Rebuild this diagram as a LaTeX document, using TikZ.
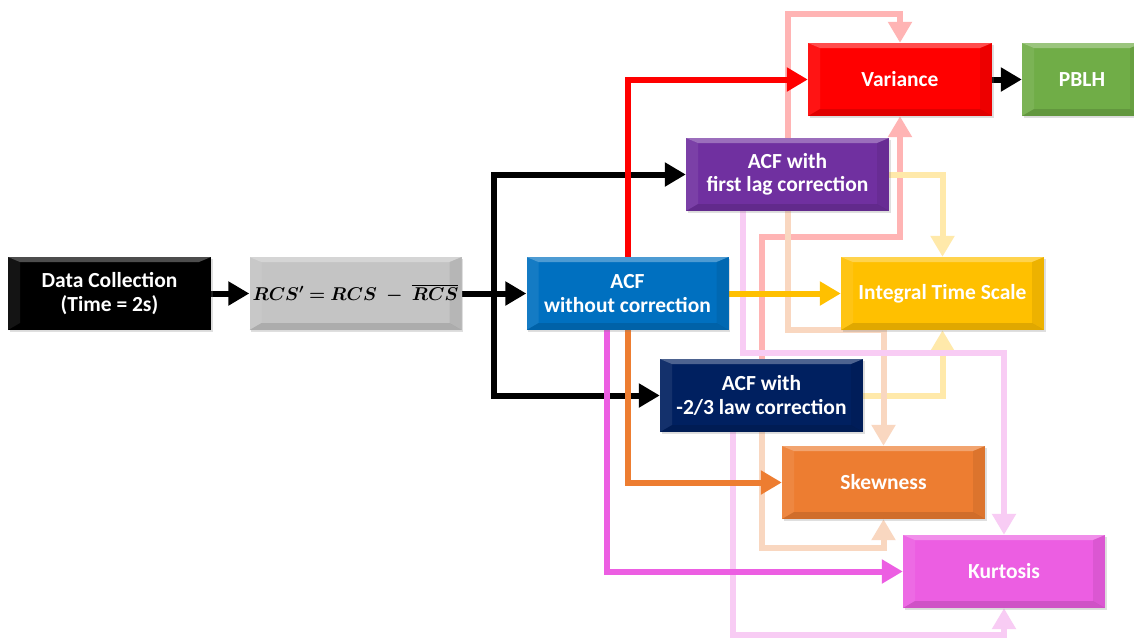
\documentclass[tikz,border=0pt]{standalone}
\usepackage{fix-cm}
\usepackage{amsmath}
\usepackage{bm}
\usepackage{fontspec}
\setmainfont{Carlito}
\usepackage{tikz}
\usetikzlibrary{arrows.meta,shadows}

\definecolor{rcsgray}{HTML}{C4C4C4}
\definecolor{acfblue}{HTML}{0070C0}
\definecolor{lagpurple}{HTML}{7030A0}
\definecolor{lawnavy}{HTML}{002060}
\definecolor{varred}{HTML}{FF0000}
\definecolor{pblhgreen}{HTML}{70AD47}
\definecolor{itsgold}{HTML}{FFC000}
\definecolor{skeworange}{HTML}{ED7D31}
\definecolor{kurtpink}{HTML}{EC5EE2}
\definecolor{palered}{HTML}{FFB4B4}
\definecolor{palegold}{HTML}{FFE9AA}
\definecolor{paleorange}{HTML}{F9D7C0}
\definecolor{palepink}{HTML}{F8CCF4}

\newcommand{\rcsformula}{$\bm{RCS^{\prime} = RCS} \;\bm{-}\; \bm{\overline{RCS}}$}

\pgfdeclarelayer{background}
\pgfsetlayers{background,main}

\tikzset{bevel/.style={path picture={
  \fill[white,opacity=.3] (path picture bounding box.north west) -- (path picture bounding box.north east)
    -- ([shift={(-12pt,-5pt)}]path picture bounding box.north east) -- ([shift={(12pt,-5pt)}]path picture bounding box.north west) -- cycle;
  \fill[white,opacity=.08] (path picture bounding box.north west) -- ([shift={(12pt,-5pt)}]path picture bounding box.north west)
    -- ([shift={(12pt,7pt)}]path picture bounding box.south west) -- (path picture bounding box.south west) -- cycle;
  \fill[black,opacity=.07] (path picture bounding box.north east) -- ([shift={(-12pt,-5pt)}]path picture bounding box.north east)
    -- ([shift={(-12pt,7pt)}]path picture bounding box.south east) -- (path picture bounding box.south east) -- cycle;
  \fill[black,opacity=.12] (path picture bounding box.south west) -- (path picture bounding box.south east)
    -- ([shift={(-12pt,7pt)}]path picture bounding box.south east) -- ([shift={(12pt,7pt)}]path picture bounding box.south west) -- cycle;
}}}

\tikzstyle{block} = [rectangle,
                     minimum width=203pt,
                     minimum height=73pt,
                     inner sep=0pt,
                     text centered,
                     text=white,
                     font=\fontsize{21.5}{23.5}\selectfont\bfseries,
                     bevel,
                     drop shadow={shadow xshift=1.5pt,shadow yshift=-2pt,opacity=.25},
                    ]
\tikzstyle{arrow} = [line width=6pt,-{Triangle[length=21pt,width=23pt]}]

\begin{document}
\begin{tikzpicture}[x=1pt,y=-1pt,node distance=246pt]

\useasboundingbox (0,0) rectangle (1134,643);
\begin{pgfonlayer}{background}
\fill[white] (0,0) rectangle (1134,643);
\end{pgfonlayer}

\node (data) [block, fill=black, align=center] at (109.5,293.5) {Data Collection\\(Time = 2s)};
\node (rcs) [block, fill=rcsgray, text=black, minimum width=212pt, font=\fontsize{18.5}{22}\selectfont, right of=data] {\rcsformula};
\node (acf) [block, fill=acfblue, align=center, minimum width=202pt, right of=rcs, xshift=26pt] {ACF\\without correction};
\node (lag) [block, fill=lagpurple, align=center, right of=acf, xshift=-86pt, yshift=119pt] {ACF with\\first lag correction};
\node (law) [block, fill=lawnavy, align=center, right of=acf, xshift=-112pt, yshift=-102pt] {ACF with\\-2/3 law correction};
\node (its) [block, fill=itsgold, right of=acf, xshift=69pt] {Integral Time Scale};
\node (var) [block, fill=varred, minimum width=184pt, above of=its, xshift=-42.5pt, yshift=-32pt] {Variance};
\node (pblh) [block, fill=pblhgreen, minimum width=120pt, right of=var, xshift=-64pt] {PBLH};
\node (skew) [block, fill=skeworange, below of=its, xshift=-59pt, yshift=57pt] {Skewness};
\node (kurt) [block, fill=kurtpink, minimum width=202pt, below of=its, xshift=61.5pt, yshift=-32pt] {Kurtosis};

\coordinate (split) at ([xshift=32pt]rcs.east);

\begin{pgfonlayer}{background}
% faded links from the corrected ACFs
\draw [arrow, palered] (lag.north) -- ++(0,124pt) -| (var.north);
\draw [arrow, palered] (law.north) -- ++(0,122pt) -| (var.south);
\draw [arrow, palegold] (lag) -| (its);
\draw [arrow, palegold] (law) -| (its);
\draw [arrow, paleorange] (lag.south) -- ++(0,-119pt) -| (skew.north);
\draw [arrow, paleorange] (law.south) -- ++(0,-116pt) -| (skew.south);
\draw [arrow, palepink] ([xshift=-45pt]lag.south) -- ++(0,-142pt) -| (kurt.north);
\draw [arrow, palepink] ([xshift=-29pt]law.south) -- ++(0,-203pt) -| (kurt.south);
% main links
\draw [arrow] (data) -- (rcs);
\draw [arrow] (rcs) -- (acf);
\draw [arrow] (split) |- (lag);
\draw [arrow] (split) |- (law);
\draw [arrow, varred] (acf.north) |- (var);
\draw [arrow, itsgold] (acf) -- (its);
\draw [arrow, skeworange] (acf.south) |- (skew);
\draw [arrow, kurtpink] ([xshift=-21pt]acf.south) |- (kurt);
\draw [arrow] (var) -- (pblh);
\end{pgfonlayer}

\end{tikzpicture}
\end{document}
